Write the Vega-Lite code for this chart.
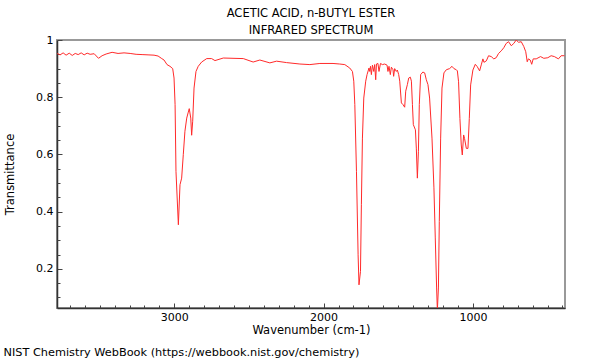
{
  "$schema": "https://vega.github.io/schema/vega-lite/v6.json",
  "autosize": "none",
  "width": 508,
  "height": 268,
  "padding": {"left": 57, "top": 40, "right": 35, "bottom": 52},
  "background": "white",
  "config": {
    "font": "DejaVu Sans",
    "view": {"stroke": "#999999", "strokeWidth": 2},
    "axis": {"grid": false, "labelColor": "black", "titleColor": "black", "labelFontSize": 11, "titleFontSize": 11.5, "titleFontWeight": "normal", "domainColor": "#333333", "tickColor": "#444444", "tickWidth": 1, "labelFont": "DejaVu Sans", "titleFont": "DejaVu Sans"}
  },
  "title": {
    "text": ["ACETIC ACID, n-BUTYL ESTER", "INFRARED SPECTRUM"],
    "fontSize": 11.5, "fontWeight": "normal", "color": "black", "font": "DejaVu Sans",
    "anchor": "middle", "frame": "group", "lineHeight": 17, "offset": -2
  },
  "data": {"values": [
    {"wn":3785,"tr":0.953},{"wn":3765,"tr":0.948},{"wn":3745,"tr":0.955},{"wn":3725,"tr":0.947},{"wn":3704,"tr":0.954},{"wn":3684,"tr":0.946},{"wn":3664,"tr":0.953},{"wn":3644,"tr":0.949},{"wn":3624,"tr":0.955},{"wn":3604,"tr":0.948},{"wn":3584,"tr":0.954},{"wn":3564,"tr":0.950},{"wn":3537,"tr":0.952},{"wn":3508,"tr":0.936},{"wn":3484,"tr":0.945},{"wn":3457,"tr":0.951},{"wn":3417,"tr":0.957},{"wn":3377,"tr":0.953},{"wn":3337,"tr":0.955},{"wn":3296,"tr":0.953},{"wn":3256,"tr":0.950},{"wn":3216,"tr":0.949},{"wn":3176,"tr":0.948},{"wn":3136,"tr":0.947},{"wn":3109,"tr":0.944},{"wn":3084,"tr":0.935},{"wn":3069,"tr":0.930},{"wn":3049,"tr":0.914},{"wn":3029,"tr":0.908},{"wn":3011,"tr":0.900},{"wn":3002,"tr":0.867},{"wn":2995,"tr":0.774},{"wn":2989,"tr":0.541},{"wn":2973,"tr":0.354},{"wn":2962,"tr":0.494},{"wn":2951,"tr":0.517},{"wn":2940,"tr":0.599},{"wn":2929,"tr":0.681},{"wn":2917,"tr":0.727},{"wn":2908,"tr":0.745},{"wn":2900,"tr":0.760},{"wn":2890,"tr":0.727},{"wn":2884,"tr":0.667},{"wn":2877,"tr":0.716},{"wn":2868,"tr":0.832},{"wn":2855,"tr":0.890},{"wn":2840,"tr":0.908},{"wn":2817,"tr":0.923},{"wn":2783,"tr":0.935},{"wn":2750,"tr":0.935},{"wn":2728,"tr":0.928},{"wn":2672,"tr":0.937},{"wn":2607,"tr":0.936},{"wn":2538,"tr":0.935},{"wn":2472,"tr":0.923},{"wn":2427,"tr":0.930},{"wn":2360,"tr":0.920},{"wn":2315,"tr":0.926},{"wn":2248,"tr":0.921},{"wn":2159,"tr":0.916},{"wn":2092,"tr":0.914},{"wn":2025,"tr":0.918},{"wn":1937,"tr":0.918},{"wn":1892,"tr":0.916},{"wn":1858,"tr":0.914},{"wn":1825,"tr":0.902},{"wn":1807,"tr":0.890},{"wn":1798,"tr":0.856},{"wn":1791,"tr":0.774},{"wn":1780,"tr":0.541},{"wn":1769,"tr":0.249},{"wn":1763,"tr":0.144},{"wn":1753,"tr":0.191},{"wn":1747,"tr":0.424},{"wn":1740,"tr":0.657},{"wn":1731,"tr":0.797},{"wn":1718,"tr":0.856},{"wn":1709,"tr":0.879},{"wn":1696,"tr":0.902},{"wn":1691,"tr":0.890},{"wn":1686,"tr":0.908},{"wn":1680,"tr":0.879},{"wn":1673,"tr":0.912},{"wn":1664,"tr":0.890},{"wn":1658,"tr":0.914},{"wn":1651,"tr":0.861},{"wn":1646,"tr":0.916},{"wn":1636,"tr":0.918},{"wn":1629,"tr":0.890},{"wn":1619,"tr":0.918},{"wn":1606,"tr":0.914},{"wn":1591,"tr":0.916},{"wn":1575,"tr":0.912},{"wn":1569,"tr":0.890},{"wn":1562,"tr":0.908},{"wn":1553,"tr":0.879},{"wn":1546,"tr":0.905},{"wn":1535,"tr":0.896},{"wn":1531,"tr":0.873},{"wn":1524,"tr":0.900},{"wn":1513,"tr":0.890},{"wn":1506,"tr":0.895},{"wn":1497,"tr":0.879},{"wn":1490,"tr":0.856},{"wn":1479,"tr":0.780},{"wn":1468,"tr":0.774},{"wn":1457,"tr":0.765},{"wn":1450,"tr":0.821},{"wn":1439,"tr":0.844},{"wn":1430,"tr":0.867},{"wn":1419,"tr":0.870},{"wn":1412,"tr":0.856},{"wn":1405,"tr":0.774},{"wn":1399,"tr":0.704},{"wn":1385,"tr":0.686},{"wn":1379,"tr":0.622},{"wn":1372,"tr":0.517},{"wn":1365,"tr":0.611},{"wn":1359,"tr":0.774},{"wn":1350,"tr":0.879},{"wn":1335,"tr":0.888},{"wn":1323,"tr":0.885},{"wn":1312,"tr":0.861},{"wn":1301,"tr":0.844},{"wn":1290,"tr":0.797},{"wn":1274,"tr":0.657},{"wn":1261,"tr":0.483},{"wn":1252,"tr":0.308},{"wn":1243,"tr":0.133},{"wn":1238,"tr":0.055},{"wn":1231,"tr":0.133},{"wn":1225,"tr":0.366},{"wn":1216,"tr":0.657},{"wn":1207,"tr":0.832},{"wn":1194,"tr":0.885},{"wn":1178,"tr":0.896},{"wn":1156,"tr":0.900},{"wn":1140,"tr":0.908},{"wn":1127,"tr":0.900},{"wn":1111,"tr":0.896},{"wn":1104,"tr":0.892},{"wn":1096,"tr":0.854},{"wn":1087,"tr":0.726},{"wn":1078,"tr":0.633},{"wn":1071,"tr":0.598},{"wn":1062,"tr":0.668},{"wn":1056,"tr":0.656},{"wn":1044,"tr":0.621},{"wn":1033,"tr":0.621},{"wn":1024,"tr":0.726},{"wn":1015,"tr":0.843},{"wn":1000,"tr":0.895},{"wn":984,"tr":0.915},{"wn":971,"tr":0.907},{"wn":955,"tr":0.892},{"wn":944,"tr":0.913},{"wn":933,"tr":0.934},{"wn":926,"tr":0.922},{"wn":910,"tr":0.927},{"wn":895,"tr":0.945},{"wn":877,"tr":0.942},{"wn":860,"tr":0.934},{"wn":844,"tr":0.938},{"wn":828,"tr":0.953},{"wn":810,"tr":0.962},{"wn":793,"tr":0.973},{"wn":777,"tr":0.988},{"wn":761,"tr":0.994},{"wn":743,"tr":0.980},{"wn":726,"tr":0.988},{"wn":710,"tr":1.0},{"wn":694,"tr":0.992},{"wn":676,"tr":0.994},{"wn":659,"tr":0.977},{"wn":646,"tr":0.959},{"wn":636,"tr":0.924},{"wn":628,"tr":0.934},{"wn":616,"tr":0.930},{"wn":606,"tr":0.915},{"wn":596,"tr":0.934},{"wn":576,"tr":0.934},{"wn":547,"tr":0.942},{"wn":525,"tr":0.936},{"wn":498,"tr":0.938},{"wn":476,"tr":0.945},{"wn":454,"tr":0.942},{"wn":427,"tr":0.934},{"wn":409,"tr":0.945},{"wn":387,"tr":0.945}
  ]},
  "resolve": {"axis": {"x": "independent", "y": "independent"}},
  "layer": [
    {
      "mark": {"type": "line", "color": "#ff2a2a", "strokeWidth": 1, "clip": true, "interpolate": "linear"},
      "encoding": {
        "x": {"field": "wn", "type": "quantitative", "sort": null,
          "scale": {"domain": [383, 3786], "reverse": true, "nice": false, "zero": false},
          "axis": {"orient": "bottom", "values": [1000, 2000, 3000], "format": "d", "tickSize": -5, "labelPadding": 8, "title": "Wavenumber (cm-1)", "titlePadding": 2, "domainWidth": 1.5}},
        "y": {"field": "tr", "type": "quantitative",
          "scale": {"domain": [0.063, 1], "nice": false, "zero": false},
          "axis": {"orient": "left", "values": [0.2, 0.4, 0.6, 0.8, 1], "format": ".1~f", "tickSize": -5, "labelPadding": 9, "title": "Transmittance", "titlePadding": 20, "domainWidth": 1.5}},
        "order": {"field": "wn", "type": "quantitative", "sort": "descending"}
      }
    },
    {
      "mark": {"type": "line", "opacity": 0, "clip": true},
      "encoding": {
        "x": {"field": "wn", "type": "quantitative",
          "axis": {"orient": "bottom", "values": [400,500,600,700,800,900,1100,1200,1300,1400,1500,1600,1700,1800,1900,2100,2200,2300,2400,2500,2600,2700,2800,2900,3100,3200,3300,3400,3500,3600,3700], "labels": false, "domain": false, "tickSize": -3,
            "title": "NIST Chemistry WebBook (https://webbook.nist.gov/chemistry)", "titleFontSize": 11.3, "titleX": -54, "titleY": 44, "titleAlign": "left", "titleAnchor": "start", "titleBaseline": "middle"}},
        "y": {"field": "tr", "type": "quantitative",
          "axis": {"orient": "left", "values": [0.1,0.15,0.25,0.3,0.35,0.45,0.5,0.55,0.65,0.7,0.75,0.85,0.9,0.95], "labels": false, "domain": false, "tickSize": -3, "title": null}},
        "order": {"field": "wn", "type": "quantitative", "sort": "descending"}
      }
    }
  ]
}
